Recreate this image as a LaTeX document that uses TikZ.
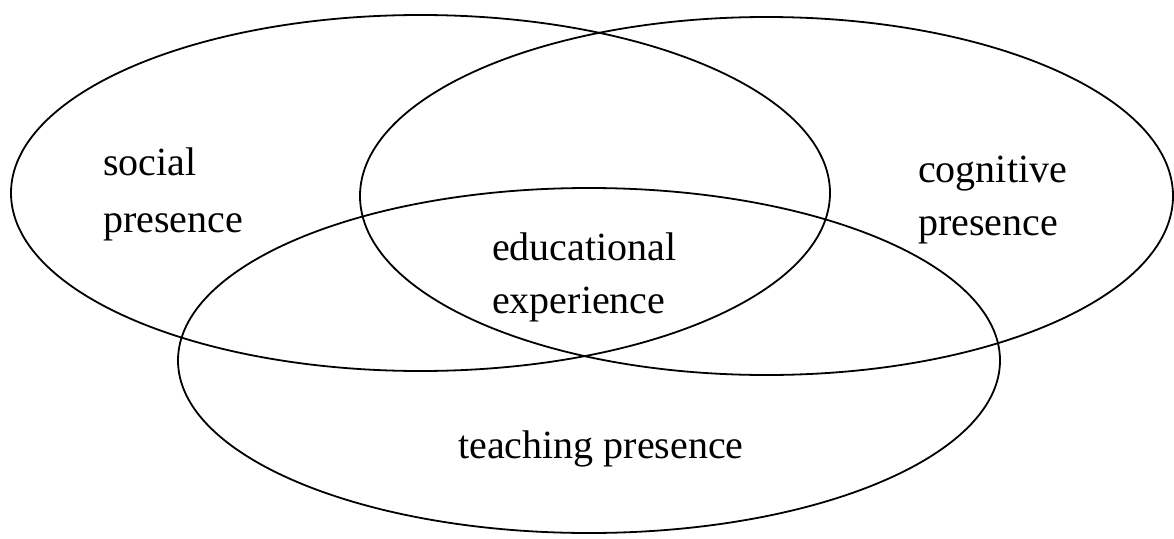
\documentclass[tikz,border=0pt]{standalone}
\usepackage{fontspec}
\setmainfont{Liberation Serif}
\begin{document}
\begin{tikzpicture}[x=1pt,y=-1pt,
  ring/.style={draw=black,line width=1.8pt},
  lbl/.style={inner sep=0pt,anchor=base west,font=\fontsize{40}{48}\selectfont}]
\useasboundingbox[fill=white] (0,0) rectangle (1174,538);
% social presence (left)
\draw[ring] (420.5,193) ellipse [x radius=409.5pt, y radius=178pt];
% cognitive presence (right)
\draw[ring] (766.5,196) ellipse [x radius=406.5pt, y radius=179pt];
% teaching presence (bottom)
\draw[ring] (589,360.5) ellipse [x radius=411pt, y radius=172.5pt];
\node[lbl] (soc1) at (103,175) {social};
\node[lbl] (soc2) at (103,232) {presence};
\node[lbl] (cog1) at (918,182) {cognitive};
\node[lbl] (cog2) at (918,235) {presence};
\node[lbl] (edu1) at (492,260) {educational};
\node[lbl] (edu2) at (492,313) {experience};
\node[lbl] (tea) at (458,458) {teaching presence};
\end{tikzpicture}
\end{document}
